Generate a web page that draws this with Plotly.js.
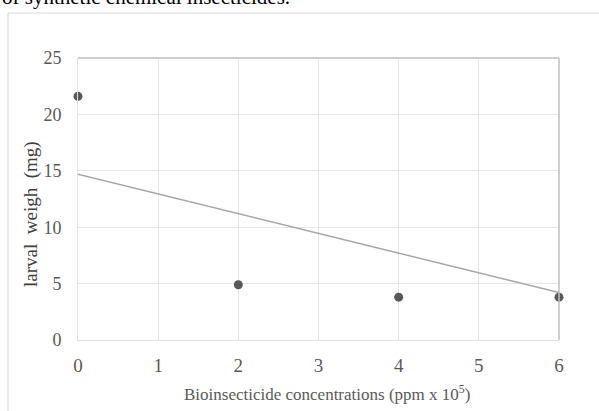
<!DOCTYPE html>
<html>
<head>
<meta charset="utf-8">
<script src="https://cdn.plot.ly/plotly-3.0.1.min.js"></script>
<style>html,body{margin:0;padding:0;background:#fff;} #chart{width:599px;height:411px;}</style>
</head>
<body>
<div id="chart"></div>
<script>
// Data
const concentrations = [0, 2, 4, 6];
const larvalWeight = [21.6, 4.9, 3.8, 3.8];
const trendX = [0, 6];
const trendY = [14.7, 4.2];
const xTicks = [0, 1, 2, 3, 4, 5, 6];
const yTicks = [0, 5, 10, 15, 20, 25];

const serif = '"Liberation Serif", "Times New Roman", serif';
const textGray = '#595959';

const traces = [
  {
    x: trendX, y: trendY, type: 'scatter', mode: 'lines',
    line: {color: '#a6a6a6', width: 1.5}, hoverinfo: 'skip', showlegend: false,
    cliponaxis: false
  },
  {
    x: concentrations, y: larvalWeight, type: 'scatter', mode: 'markers',
    marker: {color: '#595959', size: 9}, showlegend: false, cliponaxis: false
  }
];

const layout = {
  width: 599, height: 411,
  margin: {l: 78, r: 40, t: 58, b: 71},
  paper_bgcolor: '#ffffff', plot_bgcolor: '#ffffff',
  showlegend: false,
  font: {family: serif, color: textGray},
  xaxis: {
    range: [0, 6], tickvals: xTicks, ticktext: xTicks.map(String),
    showgrid: true, gridcolor: '#e6e6e6', gridwidth: 1,
    zeroline: false, showline: true, linecolor: '#e0e0e0', linewidth: 1,
    ticks: 'outside', ticklen: 8, tickcolor: 'rgba(0,0,0,0)',
    tickfont: {family: serif, size: 19, color: textGray},
    fixedrange: true
  },
  yaxis: {
    range: [0, 25], tickvals: yTicks, ticktext: yTicks.map(String),
    showgrid: true, gridcolor: '#e6e6e6', gridwidth: 1,
    zeroline: false, showline: true, linecolor: '#e0e0e0', linewidth: 1,
    ticks: 'outside', ticklen: 12, tickcolor: 'rgba(0,0,0,0)',
    tickfont: {family: serif, size: 18, color: textGray},
    fixedrange: true
  },
  shapes: [
    {type: 'line', xref: 'paper', yref: 'paper', x0: 0, x1: 1, y0: 1, y1: 1,
     line: {color: '#bfbfbf', width: 1.5}},
    {type: 'line', xref: 'paper', yref: 'paper', x0: 1, x1: 1, y0: 0, y1: 1,
     line: {color: '#bfbfbf', width: 1.5}},
    {type: 'rect', xref: 'paper', yref: 'paper',
     x0: (8 - 78) / 481, x1: 1.3, y0: -0.4, y1: (340 - 13) / 282,
     line: {color: '#d9d9d9', width: 1}, layer: 'below'}
  ],
  annotations: [
    {text: 'of synthetic chemical insecticides.', xref: 'paper', yref: 'paper',
     x: (0 - 78) / 481, y: (340 - 11) / 282, xanchor: 'left', yanchor: 'bottom',
     showarrow: false, font: {family: serif, size: 21, color: '#000000'}},
    {text: 'Bioinsecticide concentrations (ppm x 10<sup>5</sup>)', xref: 'paper', yref: 'paper',
     x: (327 - 78) / 481, y: (340 - 393) / 282, xanchor: 'center', yanchor: 'middle',
     showarrow: false, font: {family: serif, size: 17, color: textGray}},
    {text: 'larval  weigh  (mg)', xref: 'paper', yref: 'paper',
     x: (31 - 78) / 481, y: (340 - 214) / 282, xanchor: 'center', yanchor: 'middle',
     textangle: -90, showarrow: false, font: {family: serif, size: 19, color: '#404040'}}
  ]
};

Plotly.newPlot('chart', traces, layout, {displayModeBar: false, staticPlot: true});
</script>
</body>
</html>
